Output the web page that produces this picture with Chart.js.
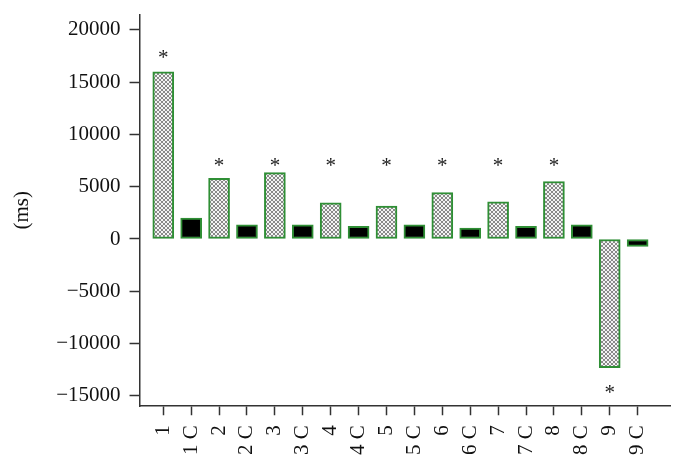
<!DOCTYPE html>
<html>
<head>
<meta charset="utf-8">
<script src="https://cdn.jsdelivr.net/npm/chart.js@4"></script>
<style>
  html, body { margin: 0; padding: 0; background: #fff; }
  #wrap { width: 685px; height: 468px; }
</style>
</head>
<body>
<div id="wrap"><canvas id="chart" width="685" height="468"></canvas></div>
<script>
// categories along the x axis (test + control pairs)
const categories = ["1", "1 C", "2", "2 C", "3", "3 C", "4", "4 C", "5", "5 C",
                    "6", "6 C", "7", "7 C", "8", "8 C", "9", "9 C"];
// values in ms
const values = [16000, 2000, 5800, 1350, 6350, 1350, 3450, 1200, 3150, 1350,
                4450, 1050, 3550, 1200, 5500, 1350, -12300, -700];
// where the asterisks go (value on y axis), null = none
const starAt = [17800, null, 7500, null, 7500, null, 7500, null, 7500, null,
                7500, null, 7500, null, 7500, null, -14250, null];
const yTicks = [-15000, -10000, -5000, 0, 5000, 10000, 15000, 20000];

// crosshatch fill for the test bars
function makeHatch() {
  const c = document.createElement("canvas");
  c.width = 4; c.height = 4;
  const g = c.getContext("2d");
  g.fillStyle = "#f4f4f4";
  g.fillRect(0, 0, 4, 4);
  g.fillStyle = "#8a8a8a";
  for (let i = 0; i < 4; i++) {
    g.fillRect(i, i, 1, 1);
    g.fillRect(3 - i, i, 1, 1);
  }
  return g.createPattern(c, "repeat");
}
const hatch = makeHatch();

const serif = "'Liberation Serif', 'Times New Roman', serif";

// draws the asterisks from starAt through the scales
const stars = {
  id: "stars",
  afterDatasetsDraw(chart) {
    const ctx = chart.ctx;
    const xs = chart.scales.x, ys = chart.scales.y;
    ctx.save();
    ctx.fillStyle = "#222";
    ctx.font = "21px " + serif;
    ctx.textAlign = "center";
    ctx.textBaseline = "alphabetic";
    starAt.forEach((v, i) => {
      if (v === null) return;
      ctx.fillText("*", xs.getPixelForValue(i), ys.getPixelForValue(v) + 11);
    });
    ctx.restore();
  }
};

new Chart(document.getElementById("chart"), {
  type: "bar",
  data: {
    datasets: [{
      data: values.map((v, i) => ({ x: i, y: v })),
      backgroundColor: values.map((v, i) => (i % 2 === 0 ? hatch : "#000")),
      borderColor: "#2f8f35",
      borderWidth: 2,
      borderSkipped: false,
      barThickness: 21
    }]
  },
  options: {
    responsive: false,
    animation: false,
    layout: { padding: { left: 10, top: 13, right: 15, bottom: 3 } },
    plugins: { legend: { display: false }, tooltip: { enabled: false } },
    scales: {
      x: {
        type: "linear",
        offset: false,
        min: -0.85,
        max: 18.16,
        afterBuildTicks: (s) => { s.ticks = categories.map((c, i) => ({ value: i })); },
        ticks: {
          autoSkip: false,
          minRotation: 90,
          maxRotation: 90,
          padding: 10,
          color: "#111",
          font: { family: serif, size: 21 },
          callback: (v) => categories[v]
        },
        grid: { drawOnChartArea: false, offset: false, tickLength: 9, tickColor: "#333", tickWidth: 1.5 },
        border: { color: "#333", width: 1.5 }
      },
      y: {
        min: -16000,
        max: 21500,
        afterBuildTicks: (s) => { s.ticks = yTicks.map((v) => ({ value: v })); },
        ticks: {
          padding: 9,
          color: "#111",
          font: { family: serif, size: 21, lineHeight: 0.5 },
          callback: (v) => String(v).replace("-", "\u2212")
        },
        grid: { drawOnChartArea: false, tickLength: 10, tickColor: "#333", tickWidth: 1.5 },
        border: { color: "#333", width: 1.5 },
        title: {
          display: true,
          text: "(ms)",
          color: "#111",
          font: { family: serif, size: 21 },
          padding: { top: 0, bottom: 12 }
        }
      }
    }
  },
  plugins: [stars]
});
</script>
</body>
</html>
